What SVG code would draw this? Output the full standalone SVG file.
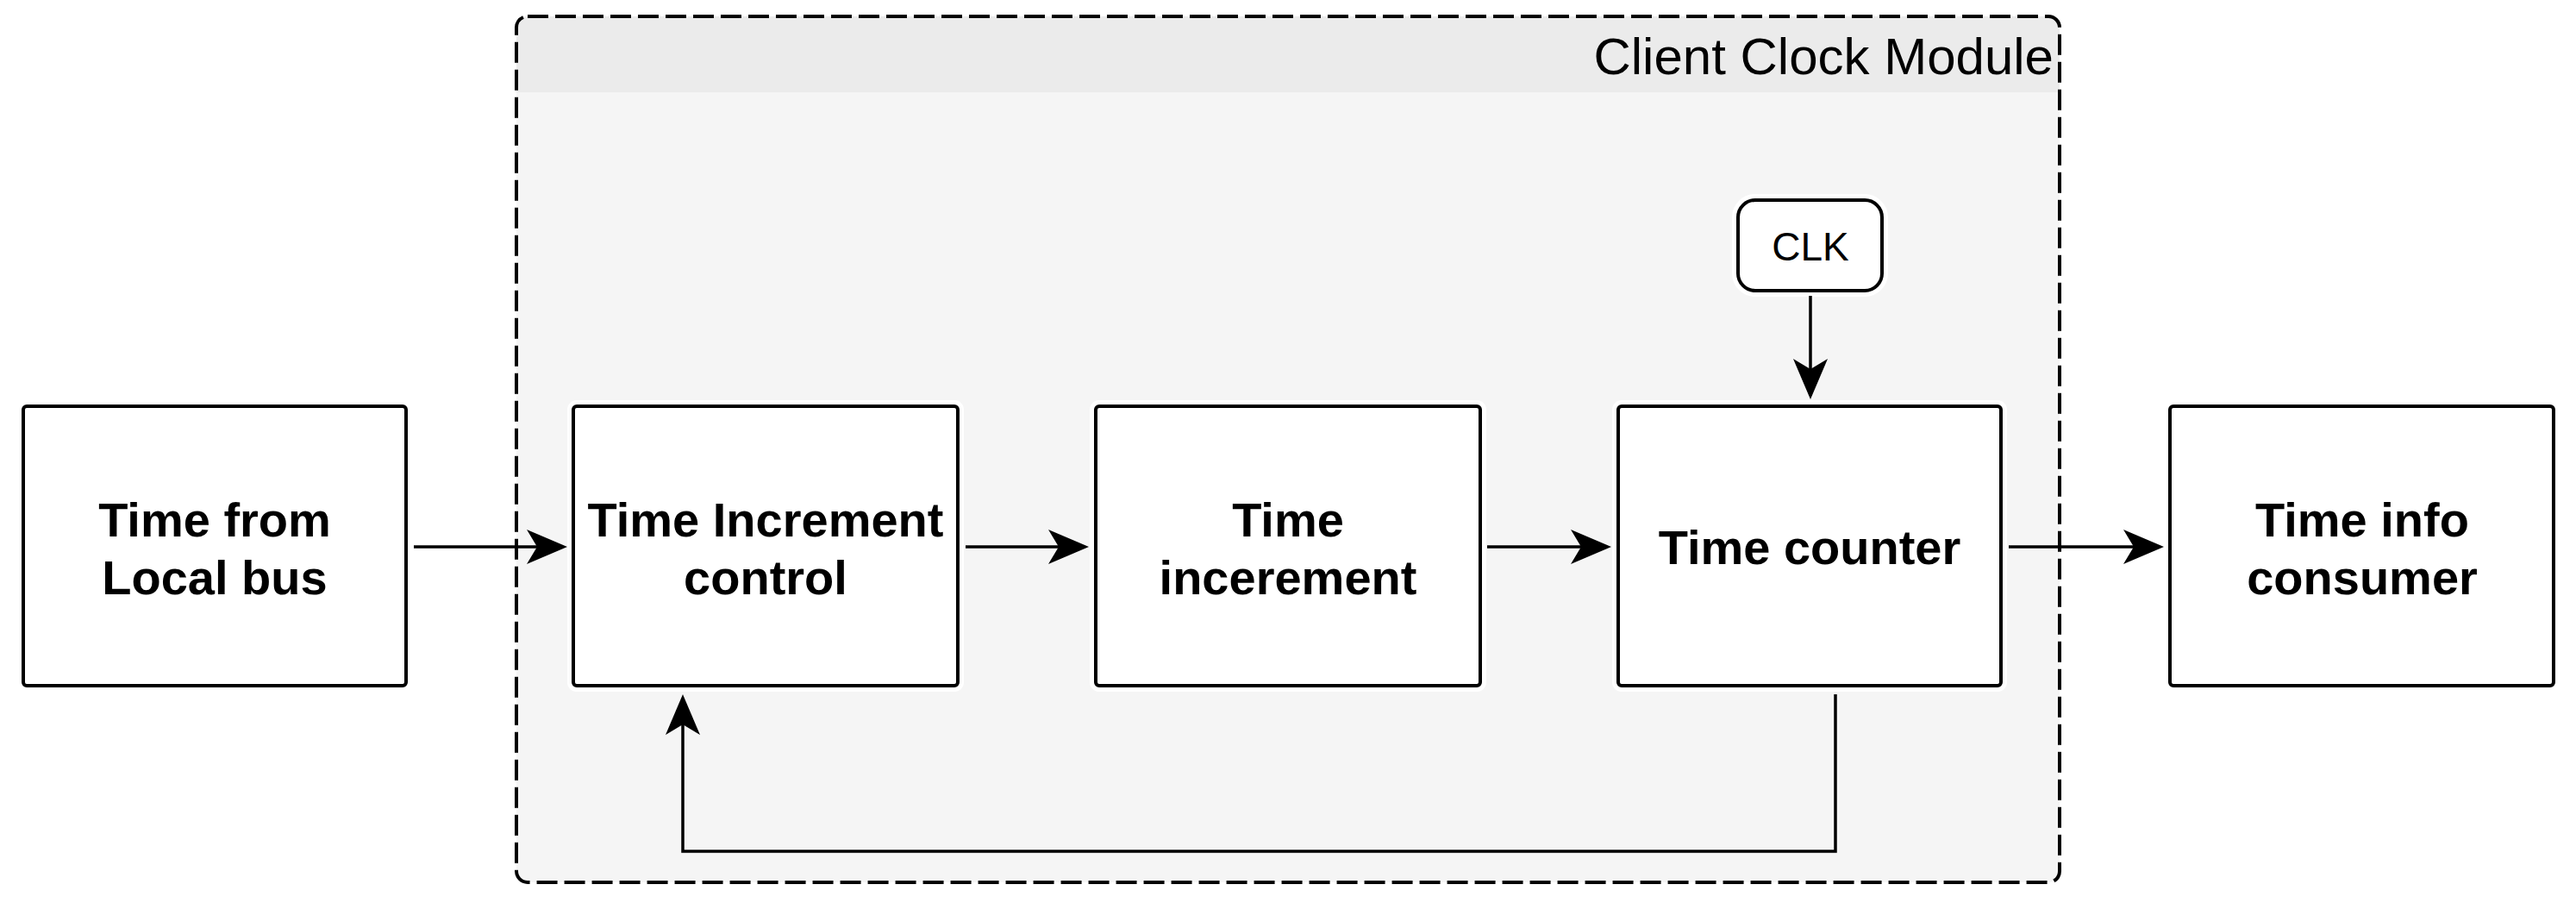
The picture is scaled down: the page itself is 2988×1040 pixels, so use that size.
<svg xmlns="http://www.w3.org/2000/svg" width="2988" height="1040" viewBox="0 0 2988 1040">
<style>
.node{fill:#fff;stroke:#000;stroke-width:4}
.halo{fill:none;stroke:#fff;stroke-width:14}
.lbl{font-family:"Liberation Sans",Arial,sans-serif;font-weight:bold;font-size:56px;fill:#000;text-anchor:middle}
.conn{fill:none;stroke:#000;stroke-width:3.5}
</style>
<defs>
<marker id="arr" markerUnits="userSpaceOnUse" markerWidth="50" markerHeight="42" refX="12" refY="20" orient="auto" viewBox="0 0 50 42">
<path d="M0,0 L47,20 L0,40 L12,20 Z" fill="#000"/>
</marker>
</defs>
<rect width="2988" height="1040" fill="#fff"/>
<g id="client-clock-module">
<rect x="599" y="19" width="1790" height="1004" rx="13" fill="#f5f5f5"/>
<path d="M599,107 V32 Q599,19 612,19 H2376 Q2389,19 2389,32 V107 Z" fill="#ebebeb"/>
<rect x="599" y="19" width="1790" height="1004" rx="13" fill="none" stroke="#000" stroke-width="4" stroke-dasharray="24 8"/>
<text x="2382" y="86" font-family="Liberation Sans,Arial,sans-serif" font-size="60" text-anchor="end" fill="#000">Client Clock Module</text>
</g>
<g id="time-from-local-bus">
<rect class="halo" x="27" y="471" width="444" height="324" rx="4"/>
<rect class="node" x="27" y="471" width="444" height="324" rx="4"/>
<text class="lbl" x="249" y="622">Time from</text>
<text class="lbl" x="249" y="689">Local bus</text>
</g>
<g id="time-increment-control">
<rect class="halo" x="665" y="471" width="446" height="324" rx="4"/>
<rect class="node" x="665" y="471" width="446" height="324" rx="4"/>
<text class="lbl" x="888" y="622">Time Increment</text>
<text class="lbl" x="888" y="689">control</text>
</g>
<g id="time-incerement">
<rect class="halo" x="1271" y="471" width="446" height="324" rx="4"/>
<rect class="node" x="1271" y="471" width="446" height="324" rx="4"/>
<text class="lbl" x="1494" y="622">Time</text>
<text class="lbl" x="1494" y="689">incerement</text>
</g>
<g id="time-counter">
<rect class="halo" x="1877" y="471" width="444" height="324" rx="4"/>
<rect class="node" x="1877" y="471" width="444" height="324" rx="4"/>
<text class="lbl" x="2099" y="654">Time counter</text>
</g>
<g id="clk">
<rect class="halo" x="2016" y="232" width="167" height="105" rx="20"/>
<rect class="node" x="2016" y="232" width="167" height="105" rx="20"/>
<text x="2100" y="302" font-family="Liberation Sans,Arial,sans-serif" font-size="46" text-anchor="middle" fill="#000">CLK</text>
</g>
<g id="time-info-consumer">
<rect class="halo" x="2517" y="471" width="445" height="324" rx="4"/>
<rect class="node" x="2517" y="471" width="445" height="324" rx="4"/>
<text class="lbl" x="2740" y="622">Time info</text>
<text class="lbl" x="2740" y="689">consumer</text>
</g>
<g id="connectors">
<path class="conn" d="M480,634 H623" marker-end="url(#arr)"/>
<path class="conn" d="M1120,634 H1228" marker-end="url(#arr)"/>
<path class="conn" d="M1725,634 H1834" marker-end="url(#arr)"/>
<path class="conn" d="M2330,634 H2475" marker-end="url(#arr)"/>
<path class="conn" d="M2100,343 V428" marker-end="url(#arr)"/>
<path class="conn" d="M2129,805 V987 H792 V840" marker-end="url(#arr)"/>
</g>
</svg>
